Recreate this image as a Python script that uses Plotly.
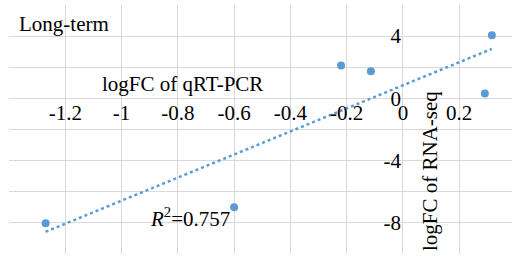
import numpy as np
import plotly.graph_objects as go

# Data
x_qpcr = [-1.27, -0.60, -0.22, -0.114, 0.316, 0.291]
y_rnaseq = [-8.03, -7.0, 2.12, 1.74, 4.05, 0.32]

x_tick_vals = [-1.2, -1.0, -0.8, -0.6, -0.4, -0.2, 0.0, 0.2]
x_tick_text = ["-1.2", "-1", "-0.8", "-0.6", "-0.4", "-0.2", "0", "0.2"]
y_tick_vals = [4, 0, -4, -8]
y_tick_text = ["4", "0", "-4", "-8"]

title_text = "Long-term"
x_title = "logFC of qRT-PCR"
y_title = "logFC of RNA-seq"
r2_text = "0.757"

BLUE = "#5B9BD5"
GRID = "#D9D9D9"
FONT = "Liberation Serif, Times New Roman, Times, serif"

# linear trendline from the data
slope, intercept = np.polyfit(x_qpcr, y_rnaseq, 1)
tx = np.array([min(x_qpcr), max(x_qpcr)])
ty = slope * tx + intercept

xr = [-1.4001, 0.3875]
yr = [-10.001, 6.001]

fig = go.Figure()
fig.add_trace(go.Scatter(x=tx, y=ty, mode="lines",
                         line=dict(color=BLUE, width=2.5, dash="dot"),
                         showlegend=False, hoverinfo="skip"))
fig.add_trace(go.Scatter(x=x_qpcr, y=y_rnaseq, mode="markers",
                         marker=dict(color=BLUE, size=8),
                         showlegend=False))

xpos = (0 - yr[0]) / (yr[1] - yr[0])
ypos = (0 - xr[0]) / (xr[1] - xr[0])

fig.update_layout(
    width=512, height=264,
    margin=dict(l=9, r=0, t=5, b=10),
    paper_bgcolor="white", plot_bgcolor="white",
    font=dict(family=FONT, size=21, color="black"),
    xaxis=dict(range=xr, tickmode="array", tickvals=x_tick_vals, ticktext=x_tick_text,
               showgrid=True, gridcolor=GRID, gridwidth=1,
               minor=dict(dtick=0.2, tick0=0, showgrid=True, gridcolor=GRID, gridwidth=1),
               zeroline=False, showline=False, ticks="",
               anchor="free", position=xpos, automargin=False,
               ticklabelstandoff=0,
               tickfont=dict(family=FONT, size=21, color="black")),
    yaxis=dict(range=yr, tickmode="array", tickvals=y_tick_vals, ticktext=y_tick_text,
               showgrid=True, gridcolor=GRID, gridwidth=1,
               minor=dict(dtick=2, tick0=0, showgrid=True, gridcolor=GRID, gridwidth=1),
               zeroline=False, showline=False, ticks="",
               anchor="free", position=ypos, automargin=False,
               ticklabelstandoff=2,
               tickfont=dict(family=FONT, size=21, color="black")),
)

ann_font = dict(family=FONT, size=21, color="black")
fig.add_annotation(text=title_text, xref="paper", yref="paper",
                   x=(17 - 9) / 503, y=(254 - 24) / 249, xanchor="left", yanchor="middle",
                   showarrow=False, font=ann_font)
fig.add_annotation(text=x_title, xref="paper", yref="paper",
                   x=(182 - 9) / 503, y=(254 - 84) / 249, xanchor="center", yanchor="middle",
                   showarrow=False, font=ann_font)
fig.add_annotation(text=y_title, xref="paper", yref="paper",
                   x=(430 - 9) / 503, y=(254 - 171) / 249, xanchor="center", yanchor="middle",
                   textangle=-90, showarrow=False, font=ann_font)
fig.add_annotation(text="<i>R</i><sup>2</sup>=" + r2_text, xref="paper", yref="paper",
                   x=(148 - 9) / 503, y=(254 - 217) / 249, xanchor="left", yanchor="middle",
                   showarrow=False, font=ann_font)

fig.write_html("out.html",
               config={"displayModeBar": False},
               post_script="document.body.style.margin='0';document.body.style.overflow='hidden';")
